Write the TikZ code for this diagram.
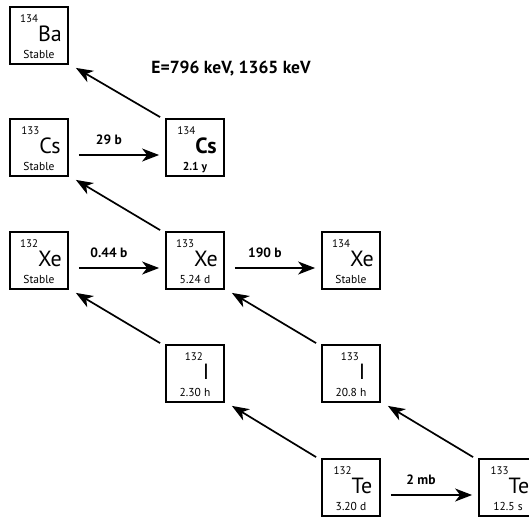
\documentclass[tikz,border=0pt]{standalone}
\usepackage{fontspec}
\setmainfont{PT Sans}
\usetikzlibrary{arrows.meta}
\tikzset{
  ebox/.style={draw, line width=1.8pt, minimum width=58pt, minimum height=57pt, inner sep=0pt},
  symb/.style={anchor=base, inner sep=0pt, font=\fontsize{22}{22}\selectfont},
  hl/.style={anchor=base, inner sep=0pt, font=\fontsize{11.5}{11.5}\selectfont},
  arr/.style={line width=1.7pt, -{Stealth[length=17pt,width=13pt,inset=5pt]}},
  lbl/.style={anchor=base, inner sep=0pt, font=\fontsize{13.5}{13.5}\selectfont\bfseries},
}
\newcommand\msup[1]{\raisebox{19pt}{\fontsize{11}{11}\selectfont\mdseries #1}}
\newcommand\elem[7]{%
  \node[ebox] (#1) at (#2+30,#3+29.5) {};
  \node[symb] (#1s) at (#2+32,#3+35) {#7\msup{#4}#5};
  \node[hl] (#1h) at (#2+30,#3+52) {#7#6};
}
\begin{document}
\begin{tikzpicture}[x=1pt,y=-1pt]
\useasboundingbox (0,0) rectangle (529,520);
\elem{ba}{9}{6}{134}{Ba}{Stable}{}
\elem{csa}{9}{118}{133}{Cs}{Stable}{}
\elem{csb}{165}{118}{134}{Cs}{2.1 y}{\bfseries}
\elem{xea}{9}{231}{132}{Xe}{Stable}{}
\elem{xeb}{165}{231}{133}{Xe}{5.24 d}{}
\elem{xec}{321}{231}{134}{Xe}{Stable}{}
\elem{ia}{165}{344}{132}{I}{2.30 h}{}
\elem{ib}{321}{344}{133}{I}{20.8 h}{}
\elem{tea}{321}{458}{132}{Te}{3.20 d}{}
\elem{teb}{478}{458}{133}{Te}{12.5 s}{}
% horizontal (capture) arrows
\foreach \a/\b/\t/\n in {csa/csb/29 b/l1, xea/xeb/0.44 b/l2, xeb/xec/190 b/l3, tea/teb/2 mb/l4}{
  \coordinate (\n s) at ([shift={(10,7.5)}]\a.east);
  \draw[arr] (\n s) -- ([shift={(-6,7.5)}]\b.west);
  \node[lbl] (\n) at ([shift={(30,-11)}]\n s) {\t};
}
% diagonal (decay) arrows
\foreach \a/\b in {csb/ba, xeb/csa, ia/xea, ib/xeb, tea/ia, teb/ib}{
  \draw[arr] ([shift={(-5,-1)}]\a.north west) -- ([shift={(7,3)}]\b.south east);
}
\node[anchor=base, inner sep=0pt, font=\fontsize{17.5}{17.5}\selectfont\bfseries] (elbl) at (231,73) {E=796 keV, 1365 keV};
\end{tikzpicture}
\end{document}
